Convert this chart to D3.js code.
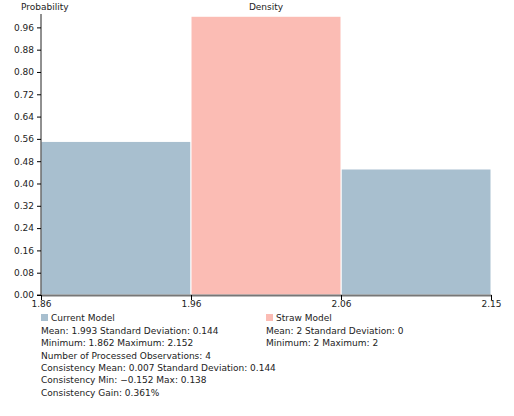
<!DOCTYPE html><html><head><meta charset="utf-8">
<script src="https://cdn.jsdelivr.net/npm/d3@7"></script>
<style>body{margin:0;background:#fff}text{font-family:"DejaVu Sans",sans-serif;fill:#222}</style></head><body>
<script>
const binEdges=["1.86","1.96","2.06","2.15"];
const currentValues=[0.551,0,0.452];
const strawValues=[0,1.0,0];
const yTicks=[0,0.08,0.16,0.24,0.32,0.40,0.48,0.56,0.64,0.72,0.80,0.88,0.96];
const currentLines=["Mean: 1.993 Standard Deviation: 0.144","Minimum: 1.862 Maximum: 2.152","Number of Processed Observations: 4","Consistency Mean: 0.007 Standard Deviation: 0.144","Consistency Min: \u22120.152 Max: 0.138","Consistency Gain: 0.361%"];
const strawLines=["Mean: 2 Standard Deviation: 0","Minimum: 2 Maximum: 2"];
const W=514,H=416,L=41,R=491,T=14,B=295;
const svg=d3.select("body").append("svg").attr("width",W).attr("height",H);
const x=d3.scaleLinear().domain([0,3]).range([L,R]);
const y=d3.scaleLinear().domain([0,1.008]).range([B,T]);
const bars=[];
currentValues.forEach((v,i)=>{if(v>0)bars.push({i,v,c:"#a8bfcf"});});
strawValues.forEach((v,i)=>{if(v>0)bars.push({i,v,c:"#fbbcb4"});});
svg.selectAll("rect.bar").data(bars).join("rect").attr("class","bar")
 .attr("x",d=>x(d.i)).attr("width",d=>x(d.i+1)-x(d.i)).attr("y",d=>y(d.v)).attr("height",d=>B-y(d.v))
 .attr("fill",d=>d.c).attr("stroke","#fff").attr("stroke-width",1);
const ya=svg.append("g").attr("transform",`translate(${L},0)`).call(d3.axisLeft(y).tickValues(yTicks).tickFormat(d3.format(".2f")).tickSize(4));
ya.selectAll("text").style("font-size","9px").attr("font-family","DejaVu Sans");
ya.select(".domain").attr("d",`M-4,${B}H0V${T}`).attr("stroke","#222");
const xa=svg.append("g").attr("transform",`translate(0,${B})`).call(d3.axisBottom(x).tickValues([0,1,2,3]).tickFormat(i=>binEdges[i]).tickSize(5).tickSizeOuter(0));
xa.selectAll("text").style("font-size","9px").attr("dy","0.4em");
xa.select(".domain").attr("stroke","#777").attr("stroke-width",2);
svg.append("text").attr("x",21).attr("y",10).style("font-size","9px").text("Probability");
svg.append("text").attr("x",266).attr("y",10).attr("text-anchor","middle").style("font-size","9px").text("Density");
function legend(x0,color,title,lines){
 svg.append("rect").attr("x",x0).attr("y",314).attr("width",7).attr("height",7).attr("fill",color);
 svg.append("text").attr("x",x0+10).attr("y",321).style("font-size","9px").text(title);
 svg.selectAll(null).data(lines).join("text").attr("x",x0).attr("y",(d,i)=>334+i*12.3).style("font-size","9px").text(d=>d);
}
legend(41,"#a8bfcf","Current Model",currentLines);
legend(266,"#fbbcb4","Straw Model",strawLines);
</script></body></html>
